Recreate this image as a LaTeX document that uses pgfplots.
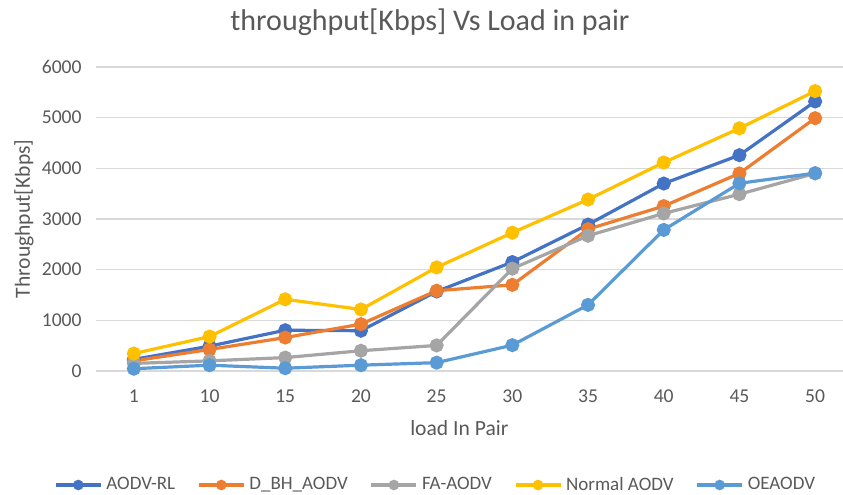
\documentclass[border=0pt]{standalone}
\usepackage{pgfplots}
\pgfplotsset{compat=1.18}
\usepackage{fontspec}
\setmainfont{Carlito}

\definecolor{cRL}{HTML}{4472C4}
\definecolor{cBH}{HTML}{ED7D31}
\definecolor{cFA}{HTML}{A5A5A5}
\definecolor{cNA}{HTML}{FFC000}
\definecolor{cOE}{HTML}{5B9BD5}
\definecolor{txt}{HTML}{595959}
\definecolor{grd}{HTML}{D9D9D9}

\begin{document}
\begin{tikzpicture}
% page = 843x494 px at 0.5pt per px, origin at the plot's lower left
\clip (-48pt,-61.5pt) rectangle (373.5pt,185.5pt);
\begin{axis}[
    scale only axis,
    width=378.5pt, height=152pt,
    at={(0,0)}, anchor=south west,
    xmin=-0.5, xmax=9.5,
    ymin=0, ymax=6000,
    xtick=data,
    xticklabels={1,10,15,20,25,30,35,40,45,50},
    ytick={0,1000,...,6000},
    scaled y ticks=false,
    /pgf/number format/assume math mode=true,
    /pgf/number format/1000 sep={},
    axis line style={draw=none},
    major tick length=0pt,
    ymajorgrids,
    grid style={grd, line width=0.6pt},
    tick label style={text=txt, font=\fontsize{9.8}{11}\selectfont},
    yticklabel style={anchor=east, inner sep=0pt, xshift=-7pt},
    xticklabel style={anchor=base, yshift=-15.5pt},
    xlabel={load In Pair},
    ylabel={Throughput[Kbps]},
    label style={text=txt, font=\fontsize{10.8}{12}\selectfont},
    xlabel style={at={(axis description cs:0.48,0)}, anchor=center, yshift=-28.5pt},
    ylabel style={at={(axis description cs:0,0.5)}, anchor=center, rotate=0, yshift=36pt},
    every axis plot/.append style={line width=1.6pt, mark=*, mark size=2.7pt},
    legend columns=5,
    legend style={draw=none, fill=none, at={(axis description cs:0.45,-0.375)}, anchor=center,
        text=txt, font=\fontsize{9.5}{11}\selectfont, inner sep=0pt,
        /tikz/every even column/.append style={column sep=9pt},
        /tikz/every odd column/.append style={column sep=0pt}},
    legend image code/.code={
        \draw[mark repeat=2, mark phase=2, mark size=1.8pt]
            plot coordinates {(0pt,0pt) (11.25pt,0pt) (22.5pt,0pt)};},
]
\addplot[cRL] coordinates {(0,230) (1,490) (2,805) (3,795) (4,1570) (5,2150) (6,2890) (7,3700) (8,4260) (9,5320)};
\addlegendentry{AODV-RL}
\addplot[cBH] coordinates {(0,200) (1,425) (2,660) (3,925) (4,1585) (5,1700) (6,2800) (7,3255) (8,3900) (9,4990)};
\addlegendentry{D\_BH\_AODV}
\addplot[cFA] coordinates {(0,150) (1,200) (2,265) (3,400) (4,505) (5,2020) (6,2670) (7,3110) (8,3490) (9,3900)};
\addlegendentry{FA-AODV}
\addplot[cNA] coordinates {(0,345) (1,680) (2,1415) (3,1215) (4,2045) (5,2730) (6,3385) (7,4115) (8,4790) (9,5525)};
\addlegendentry{Normal AODV}
\addplot[cOE] coordinates {(0,45) (1,115) (2,55) (3,115) (4,165) (5,510) (6,1305) (7,2785) (8,3705) (9,3905)};
\addlegendentry{OEAODV}
\end{axis}
\node[text=txt, font=\fontsize{15}{18}\selectfont, anchor=center] at (167pt,174.5pt) {throughput[Kbps] Vs Load in pair};
\end{tikzpicture}
\end{document}
